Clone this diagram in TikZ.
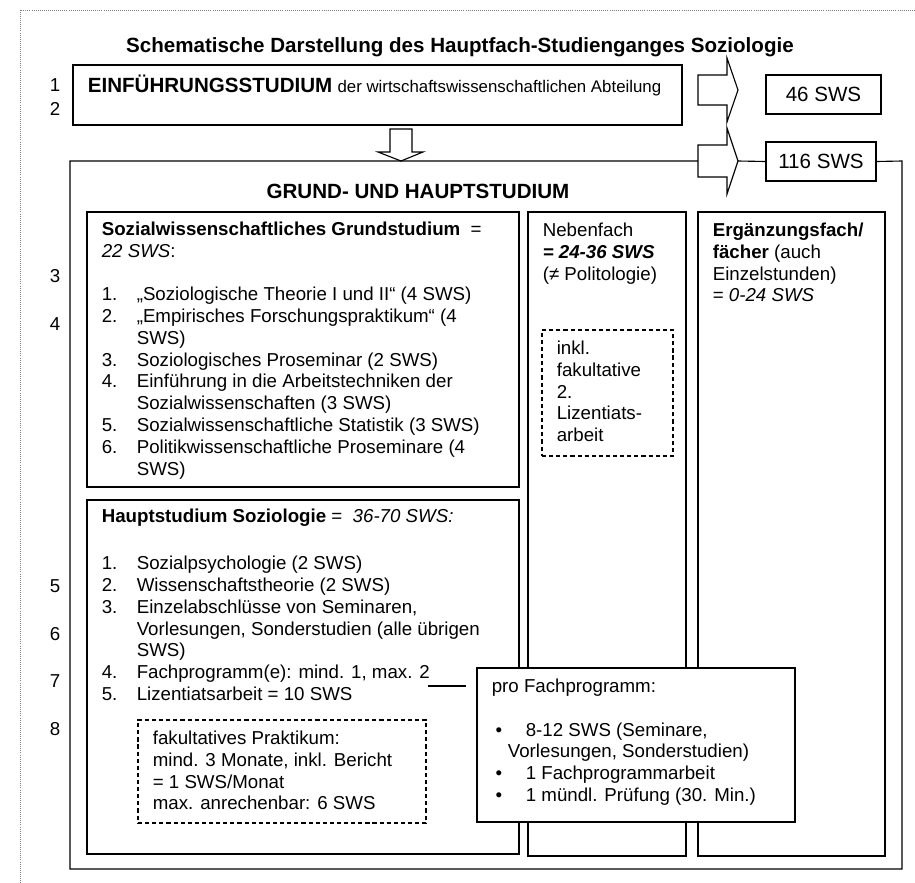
\documentclass[tikz,border=0pt]{standalone}
\usepackage{fontspec}
\setmainfont{Liberation Sans}
\usetikzlibrary{fit}
\newcommand{\itm}[1]{\makebox[18.7pt][l]{#1}}
\newcommand{\blt}{\hspace{2pt}\makebox[16.2pt][l]{\textbullet}}

\begin{document}
\begin{tikzpicture}[
      x=0.53476pt,
      y=-0.53476pt,
      every node/.style={font=\fontsize{10}{11.65}\selectfont, inner sep=0pt},
      box/.style={draw, line width=0.6pt},
      dashbox/.style={draw, line width=0.6pt, dash pattern=on 2.2pt off 1.6pt},
      txt/.style={anchor=base west},
      num/.style={anchor=base},
      big/.style={font=\fontsize{11}{13}\selectfont\bfseries},
      sws/.style={font=\fontsize{11}{13}\selectfont},
      blockarrow/.style={draw, line width=0.6pt, fill=white, line join=miter}
    ]
  \useasboundingbox (0,0) rectangle (915,883);
  \draw[gray, line width=0.5pt, dash pattern=on 0.5pt off 0.6pt] (20,883) -- (20,10) -- (915,10);

  \node (title) [big, anchor=base] at (460,52) {Schematische Darstellung des Hauptfach-Studienganges Soziologie};

  \node (intro) [box, fit={(73,65) (682,125)}] {};
  \node (introtxt) [txt] at ([shift={(15,28)}]intro.north west)
    {{\fontsize{11}{13}\selectfont\bfseries EINFÜHRUNGSSTUDIUM} {\fontsize{9}{11}\selectfont der wirtschaftswissenschaftlichen Abteilung}};

  \draw[blockarrow] (390,129) -- (412,129) -- (412,152) -- (423,152) -- (401,161) -- (378,152) -- (390,152) -- cycle;
  \draw[blockarrow] (698,75) -- (727,75) -- (727,58) -- (738,90) -- (727,122) -- (727,105) -- (698,105) -- cycle;
  \draw[blockarrow] (698,145) -- (727,145) -- (727,128) -- (738,161) -- (727,194) -- (727,177) -- (698,177) -- cycle;

  \node (b46) [box, fit={(766,75) (881,114)}] {};
  \node (t46) [sws] at (b46.center) {46 SWS};
  \node (b116) [box, fit={(766,142) (876,181)}] {};
  \node (t116) [sws] at (b116.center) {116 SWS};

  \draw[box] (698,161) -- (70,161) -- (70,869) -- (902,869) -- (902,161) -- (b116.east);
  \draw[box] (738,161) -- (b116.west);

  \node (grundhaupt) [big, anchor=base] at (418,198) {GRUND- UND HAUPTSTUDIUM};

  \node (grund) [box, fit={(87,212) (519,487)}] {};
  \node (grundtxt) [txt] at ([shift={(15,24)}]grund.north west) {\begin{tabular}[t]{@{}l@{}}
    \textbf{Sozialwissenschaftliches Grundstudium}~ =\\
    \textit{22 SWS}:\\
    \\
    \itm{1.}„Soziologische Theorie I und II“ (4 SWS)\\
    \itm{2.}„Empirisches Forschungspraktikum“ (4\\
    \itm{}SWS)\\
    \itm{3.}Soziologisches Proseminar (2 SWS)\\
    \itm{4.}Einführung in die Arbeitstechniken der\\
    \itm{}Sozialwissenschaften (3 SWS)\\
    \itm{5.}Sozialwissenschaftliche Statistik (3 SWS)\\
    \itm{6.}Politikwissenschaftliche Proseminare (4\\
    \itm{}SWS)
  \end{tabular}};

  \node (haupt) [box, fit={(87,500) (519,854)}] {};
  \node (haupttxt) [txt] at ([shift={(15,23)}]haupt.north west) {\begin{tabular}[t]{@{}l@{}}
    \textbf{Hauptstudium Soziologie} =~ \textit{36-70 SWS:}\\
    \\[2pt]
    \itm{1.}Sozialpsychologie (2 SWS)\\
    \itm{2.}Wissenschaftstheorie (2 SWS)\\
    \itm{3.}Einzelabschlüsse von Seminaren,\\
    \itm{}Vorlesungen, Sonderstudien (alle übrigen\\
    \itm{}SWS)\\
    \itm{4.}Fachprogramm(e): mind. 1, max. 2\\
    \itm{5.}Lizentiatsarbeit = 10 SWS
  \end{tabular}};

  \node (prakt) [dashbox, fit={(138,720) (426,823)}] {};
  \node (prakttxt) [txt] at ([shift={(15,25)}]prakt.north west) {\begin{tabular}[t]{@{}l@{}}
    fakultatives Praktikum:\\
    mind. 3 Monate, inkl. Bericht\\
    = 1 SWS/Monat\\
    max. anrechenbar: 6 SWS
  \end{tabular}};

  \node (neben) [box, fit={(528,212) (686,856)}] {};
  \node (nebentxt) [txt] at ([shift={(15,25)}]neben.north west) {\begin{tabular}[t]{@{}l@{}}
    Nebenfach\\
    \textbf{\textit{= 24-36 SWS}}\\
    (≠ Politologie)
  \end{tabular}};

  \node (lizarb) [dashbox, fit={(542,330) (673,456)}] {};
  \node (lizarbtxt) [txt] at ([shift={(15,25)}]lizarb.north west) {\begin{tabular}[t]{@{}l@{}}
    inkl.\\
    fakultative\\
    2.\\
    Lizentiats-\\
    arbeit
  \end{tabular}};

  \node (ergfach) [box, fit={(698,212) (885,856)}] {};
  \node (ergfachtxt) [txt] at ([shift={(15,25)}]ergfach.north west) {\begin{tabular}[t]{@{}l@{}}
    \textbf{Ergänzungsfach/}\\
    \textbf{fächer} (auch\\
    Einzelstunden)\\
    = \textit{0-24 SWS}
  \end{tabular}};

  \node (profach) [box, fill=white, fit={(477,668) (795,822)}] {};
  \node (profachtxt) [txt] at ([shift={(15,25)}]profach.north west) {\begin{tabular}[t]{@{}l@{}}
    pro Fachprogramm:\\
    \\
    \blt 8-12 SWS (Seminare,\\
    \hspace{8.6pt}Vorlesungen, Sonderstudien)\\
    \blt 1 Fachprogrammarbeit\\
    \blt 1 mündl. Prüfung (30. Min.)
  \end{tabular}};

  \coordinate (fpend) at (428,686);
  \coordinate (fpgap) at (466,686);
  \draw[line width=0.6pt] (fpend) -- (fpgap);

  \node (num1) [num] at (55,91) {1};
  \node (num2) [num] at (55,115) {2};
  \node (num3) [num] at (55,282) {3};
  \node (num4) [num] at (55,330) {4};
  \node (num5) [num] at (55,592) {5};
  \node (num6) [num] at (55,640) {6};
  \node (num7) [num] at (55,687) {7};
  \node (num8) [num] at (55,735) {8};
\end{tikzpicture}
\end{document}
